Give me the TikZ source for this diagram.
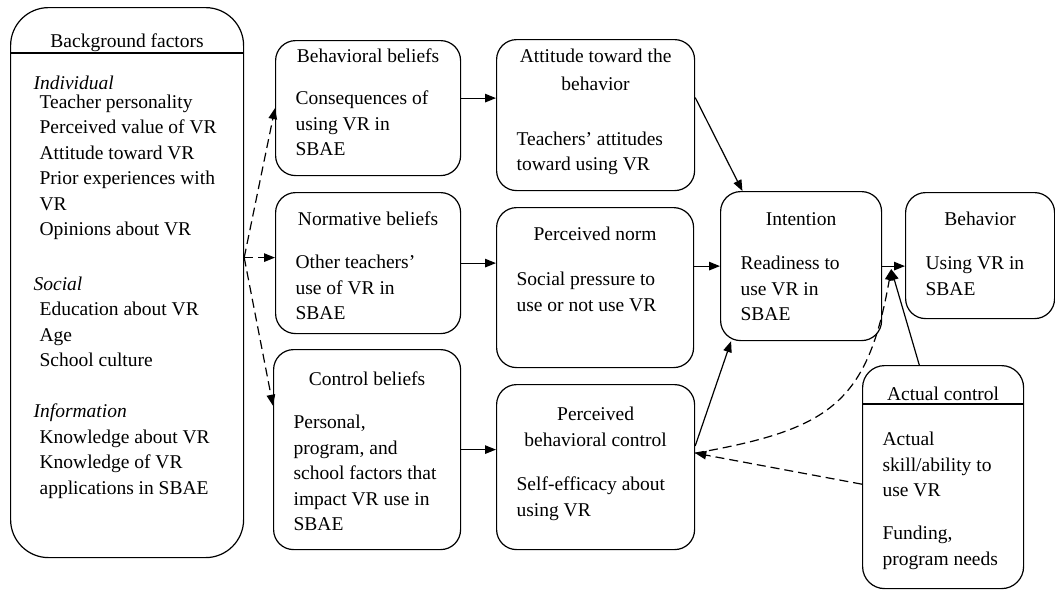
\documentclass[tikz,border=0pt]{standalone}
\usepackage{fontspec}
\setmainfont{Liberation Serif}
\usetikzlibrary{arrows.meta}

\newcommand{\tpbtext}[3]{\begin{minipage}[t][#1][t]{#2}\raggedright #3\end{minipage}}
\newcommand{\tpbtitle}[2]{\rule{0pt}{#1}\makebox[\linewidth]{#2}}
\newcommand{\itm}{\hspace*{6pt}}

\begin{document}
\begin{tikzpicture}[x=1pt, y=-1pt,
    font=\fontsize{19.5}{25.5}\selectfont,
    tpb/.style={draw, rounded corners=20pt, line width=1.2pt, inner xsep=20pt, inner ysep=6pt, anchor=north west},
    link/.style={-{Triangle[length=11pt,width=8.5pt]}, line width=1.2pt},
    dlink/.style={link, dash pattern=on 9pt off 5pt}]
  \useasboundingbox (0,0) rectangle (1055,590);

  % background factors
  \node[tpb, rounded corners=38pt, inner xsep=23pt] (bg) at (10,7)
  {\tpbtext{538pt}{187pt}{\tpbtitle{34.3pt}{Background factors}\\[16.5pt]
      \textit{Individual}\\[-7.3pt]
      \itm Teacher personality\\
      \itm Perceived value of VR\\
      \itm Attitude toward VR\\
      \itm Prior experiences with\\
      \itm VR\\
      \itm Opinions about VR\\[29pt]
      \textit{Social}\\
      \itm Education about VR\\
      \itm Age\\
      \itm School culture\\[25.5pt]
      \textit{Information}\\
      \itm Knowledge about VR\\
      \itm Knowledge of VR\\
      \itm applications in SBAE}};
  \draw[line width=1.2pt] ([yshift=-46pt]bg.north west) -- ([yshift=-46pt]bg.north east);

  % beliefs
  \node[tpb] (bb) at (275,40)
  {\tpbtext{123pt}{145pt}{\tpbtitle{15.7pt}{Behavioral beliefs}\\[16.8pt]
      Consequences of\\ using VR in\\ SBAE}};
  \node[tpb] (nb) at (275,192)
  {\tpbtext{129pt}{145pt}{\tpbtitle{27pt}{Normative beliefs}\\[17.5pt]
      Other teachers’\\ use of VR in\\ SBAE}};
  \node[tpb] (cb) at (273,349)
  {\tpbtext{188pt}{147pt}{\tpbtitle{30pt}{Control beliefs}\\[17.5pt]
      Personal,\\ program, and\\ school factors that\\ impact VR use in\\ SBAE}};

  % attitude, norm, control
  \node[tpb] (att) at (496,39)
  {\tpbtext{139pt}{158pt}{\tpbtitle{16.7pt}{Attitude toward the}\\[2.5pt]
      \makebox[\linewidth]{behavior}\\[29.5pt]
      Teachers’ attitudes\\ toward using VR}};
  \node[tpb] (pn) at (496,207)
  {\tpbtext{148pt}{157pt}{\tpbtitle{27pt}{Perceived norm}\\[19.5pt]
      Social pressure to\\ use or not use VR}};
  \node[tpb] (pbc) at (496,384)
  {\tpbtext{153pt}{158pt}{\tpbtitle{30pt}{Perceived}\\[0.5pt]
      \makebox[\linewidth]{behavioral control}\\[18.5pt]
      Self-efficacy about\\ using VR}};

  % intention, behavior, actual control
  \node[tpb] (int) at (720,191)
  {\tpbtext{137pt}{121pt}{\tpbtitle{28pt}{Intention}\\[18.5pt]
      Readiness to\\ use VR in\\ SBAE}};
  \node[tpb] (beh) at (905,192)
  {\tpbtext{114pt}{109pt}{\tpbtitle{27pt}{Behavior}\\[18.5pt]
      Using VR in\\ SBAE}};
  \node[tpb, rounded corners=22pt] (ac) at (862,365)
  {\tpbtext{211pt}{121pt}{\tpbtitle{29pt}{Actual control}\\[19.5pt]
      Actual\\ skill/ability to\\ use VR\\[17.5pt]
      Funding,\\ program needs}};
  \draw[line width=1.2pt] ([yshift=-39pt]ac.north west) -- ([yshift=-39pt]ac.north east);

  % connectors
  \coordinate (bgout) at ([yshift=25pt]bg.east);
  \draw[dlink] (bgout) -- (bb.west);
  \draw[dlink] (bgout) -- (bgout -| nb.west);
  \draw[dlink] (bgout) -- (cb.155);
  \draw[link] ([yshift=10pt]bb.east) -- ([yshift=10pt]bb.east -| att.west);
  \draw[link] (nb.east) -- (nb.east -| pn.west);
  \draw[link] (cb.east) -- (cb.east -| pbc.west);
  \draw[link] (att.10) -- (int.128);
  \draw[link] (int.west -| pn.east) -- (int.west);
  \draw[link] (pbc.12) -- (int.227);
  \draw[link] (int.east) -- (int.east -| beh.west);
  \coordinate (junc) at ([xshift=9pt,yshift=-3pt]int.east);
  \draw[link] (ac.102) -- (junc);
  \draw[dlink] (pbc.8) to[out=10, in=-100, looseness=1.3] (junc);
  \draw[dlink] (ac.185) -- (pbc.8);
\end{tikzpicture}
\end{document}
